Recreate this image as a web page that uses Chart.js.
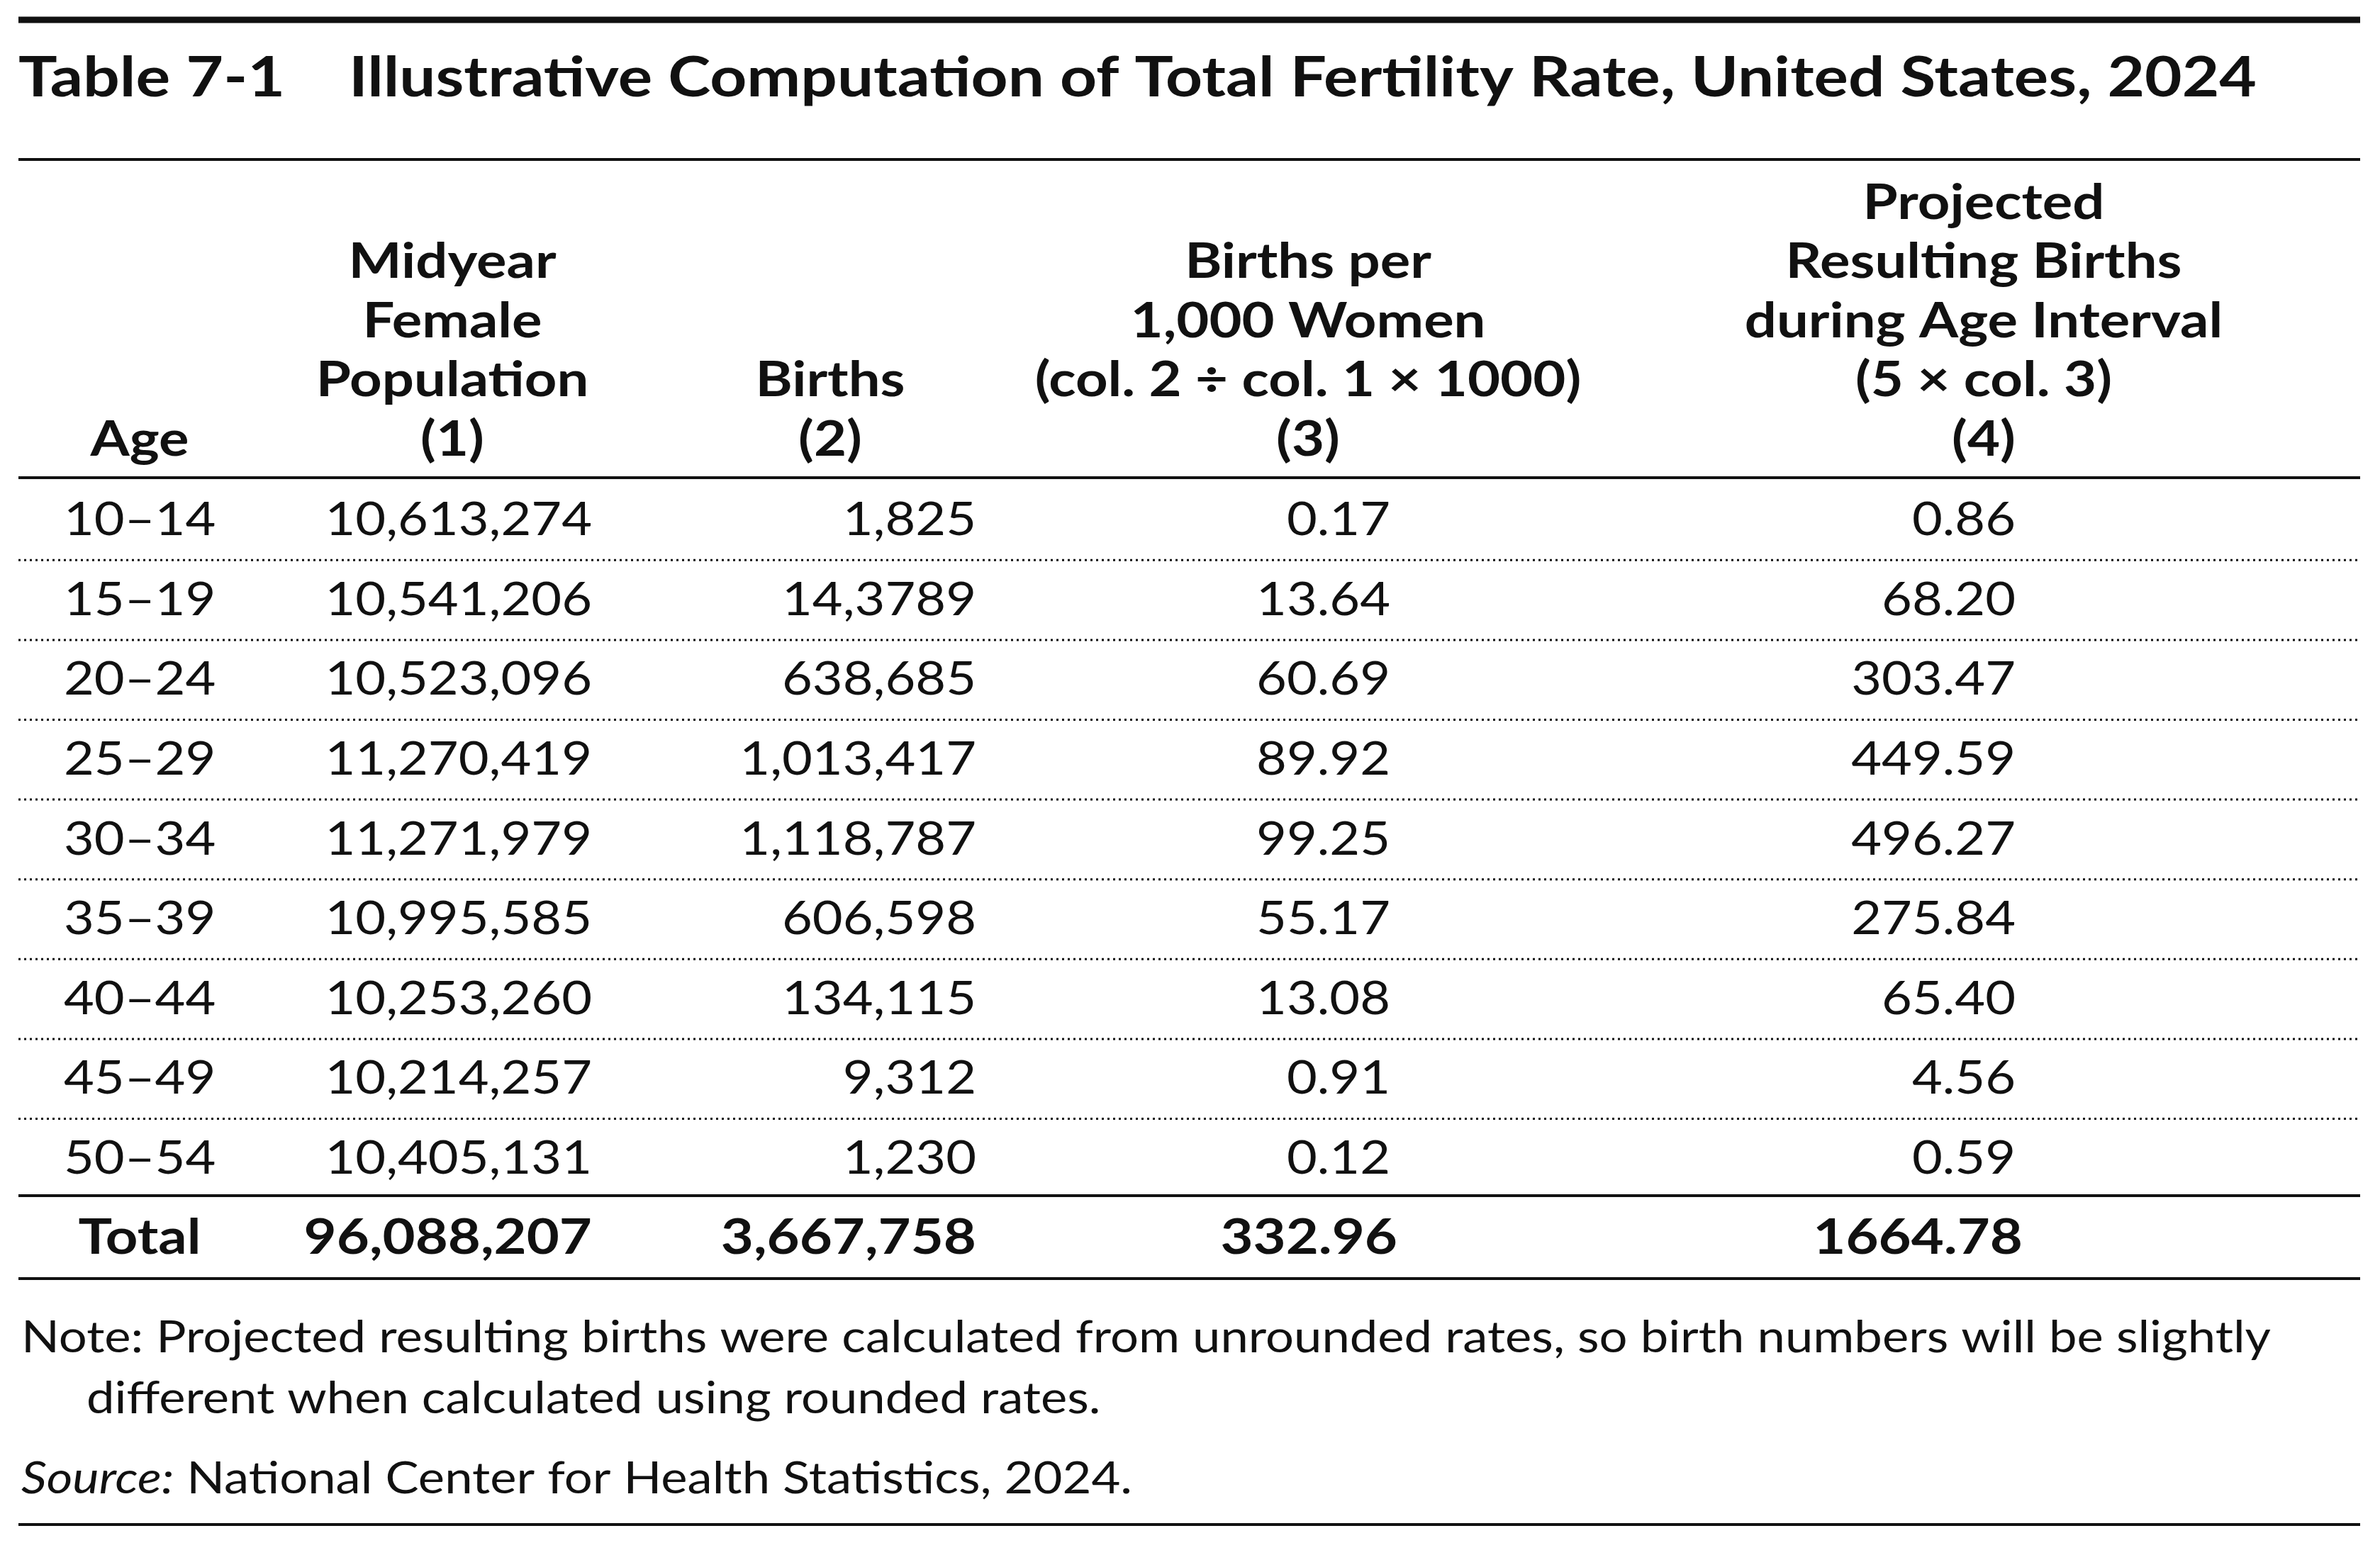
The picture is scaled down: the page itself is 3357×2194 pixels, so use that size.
<!DOCTYPE html>
<html>
<head>
<meta charset="utf-8">
<script src="https://cdn.jsdelivr.net/npm/chart.js@4.4.1/dist/chart.umd.min.js"></script>
<style>
  html, body { margin: 0; padding: 0; background: #fff; }
  #wrap { width: 3357px; height: 2194px; position: relative; }
</style>
</head>
<body>
<div id="wrap"><canvas id="table"></canvas></div>
<script>
// данные таблицы
const ages = ['10–14', '15–19', '20–24', '25–29', '30–34', '35–39', '40–44', '45–49', '50–54'];
const femalePop = ['10,613,274', '10,541,206', '10,523,096', '11,270,419', '11,271,979', '10,995,585', '10,253,260', '10,214,257', '10,405,131'];
const births = ['1,825', '14,3789', '638,685', '1,013,417', '1,118,787', '606,598', '134,115', '9,312', '1,230'];
const ratePer1000 = ['0.17', '13.64', '60.69', '89.92', '99.25', '55.17', '13.08', '0.91', '0.12'];
const projected = ['0.86', '68.20', '303.47', '449.59', '496.27', '275.84', '65.40', '4.56', '0.59'];
const totals = ['Total', '96,088,207', '3,667,758', '332.96', '1664.78'];

const titleNum = 'Table 7-1';
const titleText = 'Illustrative Computation of Total Fertility Rate, United States, 2024';
const headers = [
  ['Age'],
  ['Midyear', 'Female', 'Population', '(1)'],
  ['Births', '(2)'],
  ['Births per', '1,000 Women', '(col. 2 ÷ col. 1 × 1000)', '(3)'],
  ['Projected', 'Resulting Births', 'during Age Interval', '(5 × col. 3)', '(4)']
];
const noteLines = ['Note: Projected resulting births were calculated from unrounded rates, so birth numbers will be slightly',
  'different when calculated using rounded rates.'];
const sourceLabel = 'Source:';
const sourceText = ' National Center for Health Statistics, 2024.';

// разметка (в пикселях страницы)
const W = 3357, H = 2194;
const colHeadCenter = [197, 638, 1171, 1845, 2798];
const colRight = [0, 835, 1377, 1961, 2843];
const ageLeft = 90;
const rowTop = 734, rowStep = 112.6;
const headLastY = 621, headStep = 83.5;
const FONT = 'Lato, "Open Sans", sans-serif';
const SX_REG = 1.12, SX_BOLD = 1.17;

const tablePlugin = {
  id: 'tablePlugin',
  afterDraw(chart) {
    const ctx = chart.ctx;
    const x = chart.scales.x, y = chart.scales.y;
    const px = v => x.getPixelForValue(v);
    const py = v => y.getPixelForValue(v);
    const left = px(26), right = px(3329);

    function rule(yv, w, dotted) {
      ctx.save();
      ctx.strokeStyle = '#111';
      ctx.lineWidth = w;
      if (dotted) { ctx.setLineDash([3, 5]); }
      ctx.beginPath();
      ctx.moveTo(left, py(yv));
      ctx.lineTo(right, py(yv));
      ctx.stroke();
      ctx.restore();
    }
    // текст с горизонтальным растяжением sx, возвращает ширину
    function text(s, xv, yv, font, align, sx) {
      ctx.save();
      ctx.font = font;
      ctx.textAlign = align;
      ctx.textBaseline = 'middle';
      ctx.fillStyle = '#111';
      ctx.translate(px(xv), py(yv));
      ctx.scale(sx, 1);
      ctx.fillText(s, 0, 0);
      const w = ctx.measureText(s).width * sx;
      ctx.restore();
      return w;
    }

    // линии
    rule(28, 9);
    rule(225, 4);
    rule(674, 4);
    for (let i = 0; i < ages.length - 1; i++) {
      rule(rowTop + rowStep * (i + 0.5), 3, true);
    }
    rule(1687, 4);
    rule(1804, 4);
    rule(2151, 4);

    // заголовок
    text(titleNum, 26, 111, 'bold 78px ' + FONT, 'left', SX_BOLD);
    ctx.font = 'bold 78px ' + FONT;
    const tw = ctx.measureText(titleText).width;
    text(titleText, 492, 111, 'bold 78px ' + FONT, 'left', 2691 / tw);

    // шапка
    headers.forEach((lines, c) => {
      const n = lines.length;
      lines.forEach((s, k) => {
        text(s, colHeadCenter[c], headLastY - (n - 1 - k) * headStep, 'bold 68px ' + FONT, 'center', SX_BOLD);
      });
    });

    // строки
    const cols = [femalePop, births, ratePer1000, projected];
    ages.forEach((a, i) => {
      const yv = rowTop + rowStep * i;
      text(a, ageLeft, yv, '66px ' + FONT, 'left', SX_REG);
      cols.forEach((arr, c) => text(arr[i], colRight[c + 1], yv, '66px ' + FONT, 'right', SX_REG));
    });

    // итог
    text(totals[0], colHeadCenter[0], 1747, 'bold 68px ' + FONT, 'center', SX_BOLD);
    for (let c = 1; c < totals.length; c++) {
      text(totals[c], colRight[c] + (c > 2 ? 10 : 0), 1747, 'bold 68px ' + FONT, 'right', SX_BOLD);
    }

    // примечание
    ctx.font = '62px ' + FONT;
    const nw = ctx.measureText(noteLines[0]).width;
    const sxNote = 3173 / nw;
    text(noteLines[0], 30, 1888, '62px ' + FONT, 'left', sxNote);
    text(noteLines[1], 122, 1974, '62px ' + FONT, 'left', sxNote);
    const sw = text(sourceLabel, 30, 2087, 'italic 62px ' + FONT, 'left', sxNote);
    text(sourceText, 30 + sw, 2087, '62px ' + FONT, 'left', sxNote);
  }
};

new Chart(document.getElementById('table'), {
  type: 'scatter',
  data: { datasets: [{ data: [], pointRadius: 0 }] },
  options: {
    responsive: true,
    maintainAspectRatio: false,
    animation: false,
    devicePixelRatio: 1,
    layout: { padding: 0 },
    plugins: { legend: { display: false }, tooltip: { enabled: false } },
    scales: {
      x: { type: 'linear', min: 0, max: W, display: false },
      y: { type: 'linear', min: 0, max: H, reverse: true, display: false }
    }
  },
  plugins: [tablePlugin]
});
</script>
</body>
</html>
